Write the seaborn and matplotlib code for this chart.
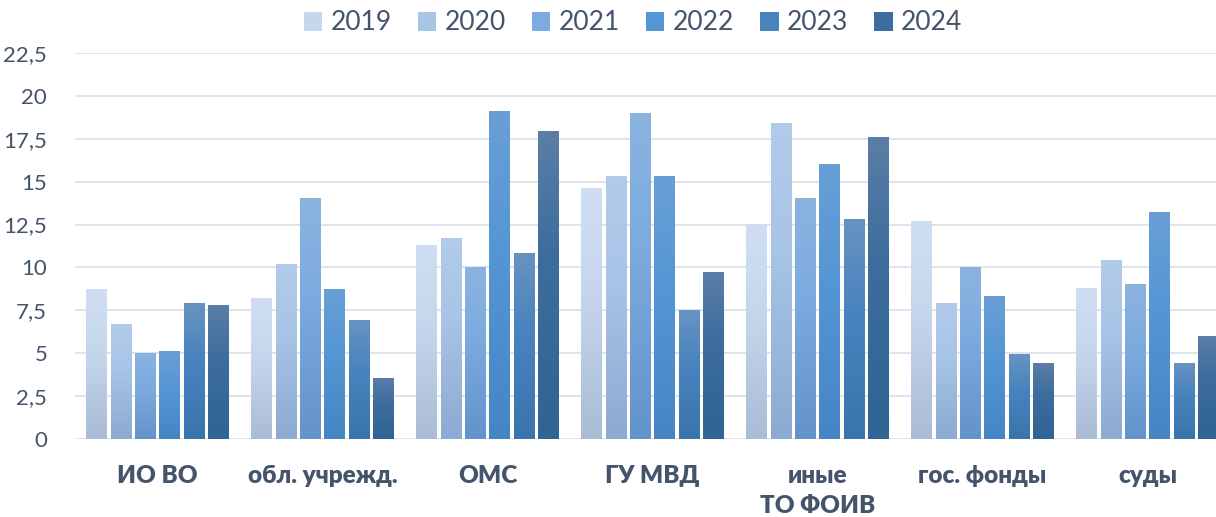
import numpy as np
import pandas as pd
import matplotlib.pyplot as plt
from matplotlib.colors import LinearSegmentedColormap
from matplotlib.patches import Patch
import seaborn as sns

sns.set_theme(style='white')
plt.rcParams['font.family'] = ['Lato', 'Open Sans', 'DejaVu Sans']

categories = ['ИО ВО', 'обл. учрежд.', 'ОМС', 'ГУ МВД', 'иные\nТО ФОИВ', 'гос. фонды', 'суды']
years = ['2019', '2020', '2021', '2022', '2023', '2024']
v2019 = [8.7, 8.2, 11.3, 14.6, 12.5, 12.7, 8.8]
v2020 = [6.7, 10.2, 11.7, 15.3, 18.4, 7.9, 10.4]
v2021 = [5.0, 14.0, 10.0, 19.0, 14.0, 10.0, 9.0]
v2022 = [5.1, 8.7, 19.1, 15.3, 16.0, 8.3, 13.2]
v2023 = [7.9, 6.9, 10.8, 7.5, 12.8, 4.9, 4.4]
v2024 = [7.8, 3.5, 17.9, 9.7, 17.6, 4.4, 6.0]
yticks = [0, 2.5, 5, 7.5, 10, 12.5, 15, 17.5, 20, 22.5]

series = [v2019, v2020, v2021, v2022, v2023, v2024]
df = pd.DataFrame({
    'cat': np.repeat([categories], len(years), axis=0).ravel(),
    'year': np.repeat(years, len(categories)),
    'value': np.concatenate(series),
})

# (bottom, middle, top) of the gradient for each year
grads = [
    ('#aabcd6', '#c6d7ed', '#cfdef2'),
    ('#8caad2', '#a8c4e6', '#b2cbea'),
    ('#6393cb', '#7dabdf', '#8bb3df'),
    ('#4585c4', '#5597d4', '#6a9fd6'),
    ('#3a74ad', '#4a84be', '#6893c1'),
    ('#2f6495', '#3d6d9e', '#5b7ea7'),
]
text_color = '#44546a'

fig = plt.figure(figsize=(12.16, 5.17), dpi=100)
ax = fig.add_axes([75 / 1216, 78 / 517, 1155 / 1216, 386 / 517])

sns.barplot(data=df, x='cat', y='value', hue='year', order=categories, hue_order=years,
            palette=[g[1] for g in grads], width=0.885, gap=0.16, legend=False, ax=ax)

# gradient fill for every bar
ramp = np.linspace(0, 1, 256).reshape(-1, 1)
for cont, g in zip(ax.containers, grads):
    cmap = LinearSegmentedColormap.from_list('g', [(0, g[0]), (0.6, g[1]), (1, g[2])])
    for bar in cont:
        x, w, h = bar.get_x(), bar.get_width(), bar.get_height()
        ax.imshow(ramp, extent=[x, x + w, 0, h], origin='lower', cmap=cmap,
                  aspect='auto', zorder=3, interpolation='bilinear')
        bar.set_facecolor('none')
        bar.set_edgecolor('none')

ax.set_xlim(-0.5, len(categories) - 0.5)
ax.set_ylim(0, 22.5)
ax.set_yticks(yticks)
ax.set_yticklabels([f'{t:g}'.replace('.', ',') for t in yticks])
ax.yaxis.grid(True, color='#dfe3ea', linewidth=1.4, zorder=0)
ax.set_axisbelow(True)
for s in ax.spines.values():
    s.set_visible(False)
ax.tick_params(axis='y', length=0, pad=20, labelsize=16, labelcolor=text_color)
ax.tick_params(axis='x', length=0, pad=19, labelcolor=text_color)
for lbl in ax.get_xticklabels():
    lbl.set_fontweight('heavy')
    lbl.set_fontsize(17.5)
    lbl.set_linespacing(1.4)
ax.set_xlabel('')
ax.set_ylabel('')

handles = [Patch(facecolor=g[1], edgecolor='none') for g in grads]
fig.legend(handles, years, loc='center', bbox_to_anchor=(633 / 1216, 1 - 23 / 517), ncol=6,
           frameon=False, fontsize=19, labelcolor=text_color, handlelength=0.7, handleheight=0.7,
           handletextpad=0.3, columnspacing=1.0)

fig.savefig('out.png', dpi=100)
